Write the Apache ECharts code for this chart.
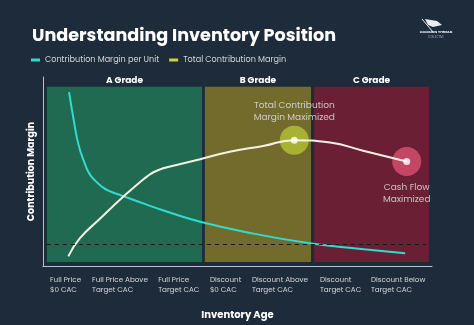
<!DOCTYPE html>
<html>
<head>
<meta charset="utf-8">
<script src="https://cdn.jsdelivr.net/npm/echarts@6/dist/echarts.min.js"></script>
<style>
html,body{margin:0;padding:0;background:#1e2b3b;}
#chart{width:474px;height:325px;}
</style>
</head>
<body>
<div id="chart"></div>
<script>
// Inventory age stages along the x axis
const categories = [
  'Full Price\n$0 CAC',
  'Full Price Above\nTarget CAC',
  'Full Price\nTarget CAC',
  'Discount\n$0 CAC',
  'Discount Above\nTarget CAC',
  'Discount\nTarget CAC',
  'Discount Below\nTarget CAC'
];
// Where each stage label starts on the age scale (0–100)
const categoryAt = [1.8, 12.6, 29.6, 42.9, 53.7, 71.2, 84.3];

// Grade bands: [name, start age, end age]
const grades = [
  ['A Grade', 1.0, 40.9],
  ['B Grade', 41.6, 68.9],
  ['C Grade', 69.7, 99.2]
];
const gradeTop = 94.8;
const gradeBottom = 2.1;

// Contribution margin per unit: [age, margin]
const marginPerUnit = [
  [6.7, 92.0], [7.8, 78.4], [9.1, 64.4], [10.8, 53.9], [12.0, 48.6],
  [13.4, 45.2], [15.0, 42.2], [16.8, 39.9], [20.6, 37.0], [25.4, 33.4],
  [30.8, 29.5], [40.4, 23.4], [54.5, 17.0], [68.6, 12.0], [80.5, 9.2],
  [93.1, 6.8]
];
// Total contribution margin: [age, margin]
const totalMargin = [
  [6.5, 5.1], [9.5, 14.7], [14.7, 25.1], [20.6, 36.6], [24.9, 44.3],
  [26.7, 47.3], [28.4, 49.6], [30.9, 51.7], [33.5, 53.0], [40.4, 56.5],
  [48.3, 60.6], [56.6, 63.5], [64.6, 66.6], [73.8, 65.3], [82.3, 61.0],
  [93.5, 55.3]
];
// Break-even reference level
const breakEven = 11.5;

// Highlighted points on the total margin curve
const highlights = [
  { name: 'Total Contribution\nMargin Maximized', value: [64.6, 66.6], color: '#abb534', pos: 'top' },
  { name: 'Cash Flow\nMaximized', value: [93.5, 55.3], color: '#c84a67', pos: 'bottom' }
];

const chart = echarts.init(document.getElementById('chart'));
const font = 'Poppins, Inter, "Open Sans", sans-serif';

chart.setOption({
  backgroundColor: '#1e2b3b',
  animation: false,
  textStyle: { fontFamily: font },
  title: {
    text: 'Understanding Inventory Position',
    left: 27, top: 23,
    textStyle: { color: '#ffffff', fontSize: 17.6, fontWeight: 'bold', fontFamily: font }
  },
  legend: {
    left: 26, top: 51,
    itemWidth: 9, itemHeight: 3, itemGap: 10,
    icon: 'rect',
    textStyle: { color: '#d3d7dc', fontSize: 8.1, fontFamily: font },
    data: [
      { name: 'Contribution Margin per Unit', itemStyle: { color: '#2fd8cc' } },
      { name: 'Total Contribution Margin', itemStyle: { color: '#c9d23d' } }
    ]
  },
  grid: { left: 43, right: 42, top: 77, bottom: 57 },
  xAxis: {
    type: 'value', min: 0, max: 100,
    name: 'Inventory Age', nameLocation: 'middle', nameGap: 44,
    nameTextStyle: { color: '#ffffff', fontSize: 10, fontWeight: 'bold' },
    axisLine: { lineStyle: { color: '#b9c2cc', width: 1 } },
    axisTick: { show: false },
    splitLine: { show: false },
    axisLabel: {
      customValues: categoryAt,
      formatter: v => categories[categoryAt.indexOf(v)] || '',
      align: 'left', verticalAlign: 'top',
      margin: 9, lineHeight: 10,
      color: '#d3d7dc', fontSize: 7.2
    }
  },
  yAxis: {
    type: 'value', min: 0, max: 100,
    name: 'Contribution Margin', nameLocation: 'middle', nameGap: 6,
    nameRotate: 90,
    nameTextStyle: { color: '#ffffff', fontSize: 9.5, fontWeight: 'bold' },
    axisLine: { show: true, lineStyle: { color: '#b9c2cc', width: 1 } },
    axisTick: { show: false },
    axisLabel: { show: false },
    splitLine: { show: false }
  },
  graphic: [
    {
      type: 'polygon', left: 425, top: 19,
      shape: { points: [[0, 0], [12, 2], [17, 6], [8, 8], [3, 6]] },
      style: { fill: '#e8edf2' }
    },
    {
      type: 'line', shape: { x1: 422, y1: 19, x2: 433, y2: 32 },
      style: { stroke: '#e8edf2', lineWidth: 1 }
    },
    {
      type: 'text', x: 436, y: 30,
      style: { text: 'COMMON THREAD', fill: '#e8edf2', fontSize: 3.6, fontWeight: 'bold', align: 'center', fontFamily: font }
    },
    {
      type: 'text', x: 436, y: 36,
      style: { text: 'COLLECTIVE', fill: '#aab3bd', fontSize: 2.8, align: 'center', fontFamily: font }
    }
  ],
  series: [
    {
      // grade bands and break-even line
      type: 'line', data: [], silent: true,
      markArea: {
        silent: true,
        label: { position: 'top', distance: 2, color: '#ffffff', fontSize: 9, fontWeight: 'bold' },
        data: grades.map((g, i) => [
          {
            name: g[0], xAxis: g[1], yAxis: gradeTop,
            itemStyle: { color: ['#1f6a50', '#726b2b', '#6b1f34'][i], opacity: 1 }
          },
          { xAxis: g[2], yAxis: gradeBottom }
        ])
      },
      markLine: {
        silent: true, symbol: 'none', label: { show: false },
        lineStyle: { color: '#161b1f', type: [4, 4], width: 1 },
        data: [[{ coord: [1.0, breakEven] }, { coord: [98.5, breakEven] }]]
      }
    },
    {
      name: 'Contribution Margin per Unit',
      type: 'line', smooth: 0.5, showSymbol: false,
      data: marginPerUnit,
      lineStyle: { color: '#2fdcd0', width: 2 },
      itemStyle: { color: '#2fd8cc' },
      z: 3
    },
    {
      name: 'Total Contribution Margin',
      type: 'line', smooth: 0.5, showSymbol: false,
      data: totalMargin,
      lineStyle: { color: '#f4f1e4', width: 2 },
      itemStyle: { color: '#c9d23d' },
      z: 4
    },
    {
      // halos around highlighted points
      type: 'scatter', symbolSize: 29, silent: true, z: 3,
      data: highlights.map(h => ({ value: h.value, itemStyle: { color: h.color, opacity: 0.95 } }))
    },
    {
      type: 'scatter', symbolSize: 7, silent: true, z: 5,
      itemStyle: { color: '#ffffff' },
      data: highlights.map(h => ({
        value: h.value,
        label: {
          show: true, position: h.pos, distance: h.pos === 'top' ? 13 : 17,
          formatter: h.name, color: '#e3e3e3', fontSize: 9, lineHeight: 12, align: 'center'
        }
      }))
    }
  ]
});
</script>
</body>
</html>
